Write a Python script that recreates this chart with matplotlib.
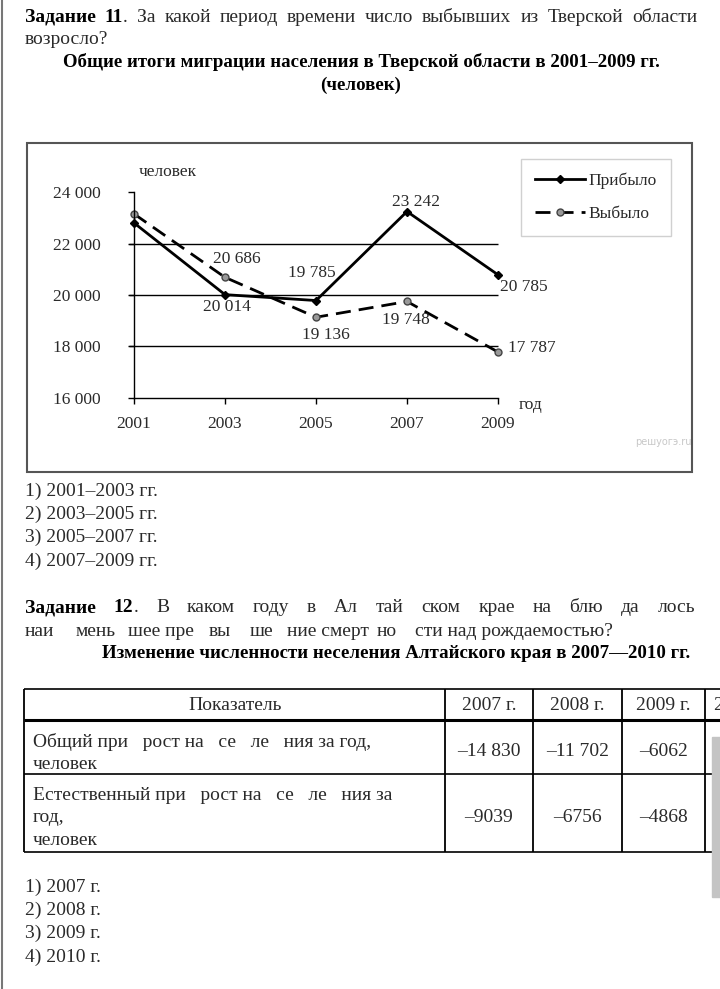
import numpy as np
import matplotlib.pyplot as plt
from matplotlib.patches import Rectangle

plt.rcParams['font.family'] = ['Liberation Serif', 'DejaVu Serif']

# данные графика (Тверская область)
years = [2001, 2003, 2005, 2007, 2009]
arrived = [22800, 20014, 19785, 23242, 20785]
departed = [23150, 20686, 19136, 19748, 17787]
arrived_labels = ['', '20 014', '19 785', '23 242', '20 785']
departed_labels = ['', '20 686', '19 136', '19 748', '17 787']
y_ticks = [16000, 18000, 20000, 22000, 24000]
y_tick_labels = ['16 000', '18 000', '20 000', '22 000', '24 000']
grid_levels = [18000, 20000, 22000]

# данные таблицы (Алтайский край)
table_head = ['Показатель', '2007 г.', '2008 г.', '2009 г.', '2010 г.']
row_names = ['Общий при   рост на   се   ле   ния за год,\nчеловек',
             'Естественный при   рост на   се   ле   ния за\nгод,\nчеловек']
total_growth = ['–14 830', '–11 702', '–6062']
natural_growth = ['–9039', '–6756', '–4868']

answers_11 = ['1) 2001–2003 гг.', '2) 2003–2005 гг.', '3) 2005–2007 гг.', '4) 2007–2009 гг.']
answers_12 = ['1) 2007 г.', '2) 2008 г.', '3) 2009 г.', '4) 2010 г.']

BODY = 14
BOLD = 13.6
TXT = '#2a2a2a'
CH = 12.5

fig = plt.figure(figsize=(7.2, 9.89), dpi=100)
page = fig.add_axes([0, 0, 1, 1])
page.set_xlim(0, 720)
page.set_ylim(989, 0)
page.axis('off')
renderer = fig.canvas.get_renderer()


def justify(words, y, x0, x1):
    # слова растягиваются по ширине строки
    arts = []
    for w in words:
        segs = []
        for s, bold in w:
            segs.append(page.text(0, y, s, fontsize=BODY, va='center', ha='left',
                                  fontweight='bold' if bold else 'normal',
                                  color='black' if bold else TXT))
        arts.append(segs)
    widths = [[t.get_window_extent(renderer).width for t in segs] for segs in arts]
    total = sum(sum(w) for w in widths)
    gap = (x1 - x0 - total) / (len(words) - 1)
    x = x0
    for segs, ws in zip(arts, widths):
        for t, w in zip(segs, ws):
            t.set_x(x)
            x += w
        x += gap


# левая граница страницы
page.axvline(1.5, color='#777777', lw=1.5)

# Задание 11
line1 = [[('Задание', True)], [('11', True), ('.', False)]] + \
    [[(w, False)] for w in 'За какой период времени число выбывших из Тверской области'.split()]
justify(line1, 17, 25, 697)
page.text(25, 40, 'возросло?', fontsize=BODY, va='center', color=TXT)
page.text(361, 62, 'Общие итоги миграции населения в Тверской области в 2001–2009 гг.',
          fontsize=BOLD, fontweight='bold', ha='center', va='center')
page.text(361, 85, '(человек)', fontsize=BOLD, fontweight='bold', ha='center', va='center')

# рамка графика
page.add_patch(Rectangle((27, 143), 665, 329, fill=False, ec='#555555', lw=1.5))

cx = fig.add_axes([134 / 720, 1 - 398 / 989, (498 - 134) / 720, (398 - 192) / 989])
cx.set_facecolor('none')
cx.set_xlim(2001, 2009)
cx.set_ylim(16000, 24000)
for s in ['top', 'right']:
    cx.spines[s].set_visible(False)
for s in ['left', 'bottom']:
    cx.spines[s].set_linewidth(1)
cx.hlines(grid_levels, 2001 - 0.11, 2009, color='black', lw=1, clip_on=False)
cx.set_xticks(years)
cx.set_xticklabels([str(y) for y in years], fontsize=CH, color=TXT)
cx.set_yticks(y_ticks)
cx.set_yticklabels(y_tick_labels, fontsize=CH, color=TXT)
cx.tick_params(axis='y', direction='out', length=4, width=1, pad=20)
cx.tick_params(axis='x', direction='out', length=4, width=1, pad=9)

cx.plot(years, arrived, color='black', lw=2, marker='D', ms=4, label='Прибыло', clip_on=False)
cx.plot(years, departed, color='black', lw=2, ls=(0, (5.4, 2.9)), marker='o', ms=5,
        mfc='#999999', mec='#444444', mew=1, label='Выбыло', clip_on=False)

arr_off = [(0, 0), (2, -12), (-4, 28), (9, 10), (26, -12)]
dep_off = [(0, 0), (12, 18), (10, -18), (-1, -19), (34, 4)]
for x, v, lab, off in zip(years, arrived, arrived_labels, arr_off):
    if lab:
        cx.annotate(lab, (x, v), xytext=off, textcoords='offset pixels',
                    ha='center', va='center', fontsize=CH, color=TXT)
for x, v, lab, off in zip(years, departed, departed_labels, dep_off):
    if lab:
        cx.annotate(lab, (x, v), xytext=off, textcoords='offset pixels',
                    ha='center', va='center', fontsize=CH, color=TXT)

page.text(168, 172, 'человек', fontsize=CH, ha='center', va='center', color=TXT)
page.text(531, 405, 'год', fontsize=CH, ha='center', va='center', color=TXT)
page.text(663, 442, 'решуогэ.ru', fontsize=7, ha='center', va='center', color='#c8c8c8',
          family='DejaVu Sans')

leg = cx.legend(loc='upper left', bbox_to_anchor=(521 / 720, 1 - 159 / 989),
                bbox_transform=fig.transFigure, borderaxespad=0, fontsize=CH,
                frameon=True, fancybox=False, edgecolor='#d0d0d0', framealpha=1,
                handlelength=2.9, handletextpad=0.2, borderpad=0.8, labelspacing=0.95)
for t in leg.get_texts():
    t.set_color(TXT)

# ответы к заданию 11
for i, a in enumerate(answers_11):
    page.text(25, 491 + i * 23.4, a, fontsize=BODY, va='center', color=TXT)

# Задание 12
line12 = [[('Задание', True)], [('12', True), ('.', False)]] + \
    [[(w, False)] for w in 'В каком году в Ал тай ском крае на блю да лось'.split()]
justify(line12, 608, 25, 695)
groups2 = ['наи', 'мень', 'шее пре', 'вы', 'ше', 'ние смерт', 'но', 'сти над рождаемостью?']
xs2 = [25, 76, 128, 209, 250, 287, 377, 415]
for w, x in zip(groups2, xs2):
    page.text(x, 631, w, fontsize=BODY, va='center', color=TXT)
page.text(396, 654, 'Изменение численности неселения Алтайского края в 2007—2010 гг.',
          fontsize=BOLD, fontweight='bold', ha='center', va='center')

# таблица
col_x = [24, 445, 533, 622, 705, 800]
row_y = [689, 720, 774, 852]
page.hlines([row_y[0], row_y[2], row_y[3]], col_x[0], 720, color='black', lw=1.2)
page.hlines(row_y[1], col_x[0], 720, color='black', lw=2.2)
page.vlines(col_x[:-1], row_y[0], row_y[3], color='black', lw=1.3)
centers = [(a + b) / 2 for a, b in zip(col_x[:-1], col_x[1:])]
centers[0] = 235
for c, h in zip(centers[:-1], table_head[:-1]):
    page.text(c, 706, h, fontsize=BODY, ha='center', va='center', color=TXT)
# последняя колонка обрезана краем страницы, как на исходной картинке
page.text(714, 706, table_head[-1], fontsize=BODY, ha='left', va='center', color=TXT)
page.text(33, 753, row_names[0], fontsize=BODY, va='center', color=TXT, linespacing=1.4)
page.text(33, 818, row_names[1], fontsize=BODY, va='center', color=TXT, linespacing=1.4)
for c, v in zip(centers[1:], total_growth):
    page.text(c, 752, v, fontsize=BODY, ha='center', va='center', color=TXT)
for c, v in zip(centers[1:], natural_growth):
    page.text(c, 817, v, fontsize=BODY, ha='center', va='center', color=TXT)
page.add_patch(Rectangle((712, 737), 8, 160, color='#c4c4c4', zorder=5))

for i, a in enumerate(answers_12):
    page.text(25, 887 + i * 23.4, a, fontsize=BODY, va='center', color=TXT)

fig.savefig('out.png', dpi=100)
